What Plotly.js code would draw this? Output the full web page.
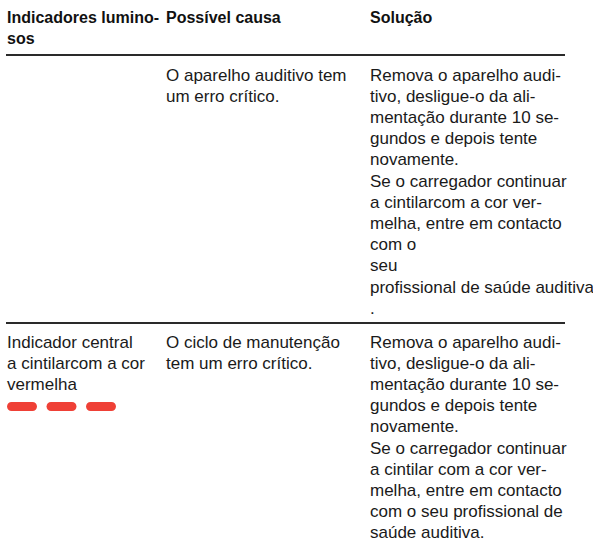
<!DOCTYPE html>
<html>
<head>
<meta charset="utf-8">
<script src="https://cdn.plot.ly/plotly-3.0.1.min.js"></script>
<style>html,body{margin:0;padding:0;background:#fff;}#chart{width:593px;height:549px;}</style>
</head>
<body>
<div id="chart"></div>
<script>
// ---- data ----
var headers = [["Indicadores lumino-", "sos"], ["Possível causa"], ["Solução"]];
var row1Indicator = [];
var row1Cause = ["O aparelho auditivo tem", "um erro crítico."];
var row1Solution = ["Remova o aparelho audi-", "tivo, desligue-o da ali-", "mentação durante 10 se-", "gundos e depois tente", "novamente.", "Se o carregador continuar", "a cintilarcom a cor ver-", "melha, entre em contacto", "com o", "seu", "profissional de saúde auditiva", "."];
var row2Indicator = ["Indicador central", "a cintilarcom a cor", "vermelha"];
var row2Cause = ["O ciclo de manutenção", "tem um erro crítico."];
var row2Solution = ["Remova o aparelho audi-", "tivo, desligue-o da ali-", "mentação durante 10 se-", "gundos e depois tente", "novamente.", "Se o carregador continuar", "a cintilar com a cor ver-", "melha, entre em contacto", "com o seu profissional de", "saúde auditiva."];
var row2Lights = ["red", "red", "red"];

// ---- layout helpers ----
var W = 593, H = 549;
var colX = [6, 165, 369];
var ruleX0 = 6, ruleX1 = 565;
var lineH = 21.2;
var headerY0 = 17;
var rule1Y = 55;
var row1Y0 = 75;
var rule2Y = 323;
var row2Y0 = 342;
var textFont = {family: "'Liberation Sans', Arial, sans-serif", size: 17, color: "#1a1a1a"};
var headFont = {family: "'Liberation Sans', Arial, sans-serif", size: 16, color: "#111", weight: 700};

var annotations = [];
function addCell(lines, col, y0, font) {
  lines.forEach(function (t, i) {
    annotations.push({
      x: colX[col], y: y0 + i * lineH, xref: "x", yref: "y",
      text: t, showarrow: false, xanchor: "left", yanchor: "middle",
      font: font, borderpad: 0
    });
  });
}
headers.forEach(function (h, c) { addCell(h, c, headerY0, headFont); });
addCell(row1Indicator, 0, row1Y0, textFont);
addCell(row1Cause, 1, row1Y0, textFont);
addCell(row1Solution, 2, row1Y0, textFont);
addCell(row2Indicator, 0, row2Y0, textFont);
addCell(row2Cause, 1, row2Y0, textFont);
addCell(row2Solution, 2, row2Y0, textFont);

var shapes = [
  {type: "line", xref: "x", yref: "y", x0: ruleX0, x1: ruleX1, y0: rule1Y, y1: rule1Y, line: {color: "#2a2a2a", width: 2}},
  {type: "line", xref: "x", yref: "y", x0: ruleX0, x1: ruleX1, y0: rule2Y, y1: rule2Y, line: {color: "#2a2a2a", width: 2}}
];
// light indicator dashes (rounded pills)
var lightY = row2Y0 + row2Indicator.length * lineH + 1;
var lightW = 30, lightH = 9, lightGap = 9.5, lightX0 = 7;
var colorMap = {red: "#ef4036"};
row2Lights.forEach(function (c, i) {
  var x0 = lightX0 + i * (lightW + lightGap), x1 = x0 + lightW;
  var r = lightH / 2, yt = lightY - r, yb = lightY + r;
  var k = r * 0.5523;
  var p = "M" + (x0 + r) + "," + yt + " L" + (x1 - r) + "," + yt +
    " C" + (x1 - r + k) + "," + yt + " " + x1 + "," + (lightY - k) + " " + x1 + "," + lightY +
    " C" + x1 + "," + (lightY + k) + " " + (x1 - r + k) + "," + yb + " " + (x1 - r) + "," + yb +
    " L" + (x0 + r) + "," + yb +
    " C" + (x0 + r - k) + "," + yb + " " + x0 + "," + (lightY + k) + " " + x0 + "," + lightY +
    " C" + x0 + "," + (lightY - k) + " " + (x0 + r - k) + "," + yt + " " + (x0 + r) + "," + yt + " Z";
  shapes.push({type: "path", xref: "x", yref: "y", path: p, fillcolor: colorMap[c], line: {width: 0}});
});

var layout = {
  width: W, height: H,
  margin: {l: 0, r: 0, t: 0, b: 0},
  paper_bgcolor: "#fff", plot_bgcolor: "#fff",
  xaxis: {range: [0, W], visible: false, fixedrange: true},
  yaxis: {range: [H, 0], visible: false, fixedrange: true},
  showlegend: false,
  annotations: annotations,
  shapes: shapes
};
Plotly.newPlot("chart", [{x: [], y: [], type: "scatter", mode: "markers", hoverinfo: "skip"}], layout, {staticPlot: true, displayModeBar: false});
</script>
</body>
</html>
